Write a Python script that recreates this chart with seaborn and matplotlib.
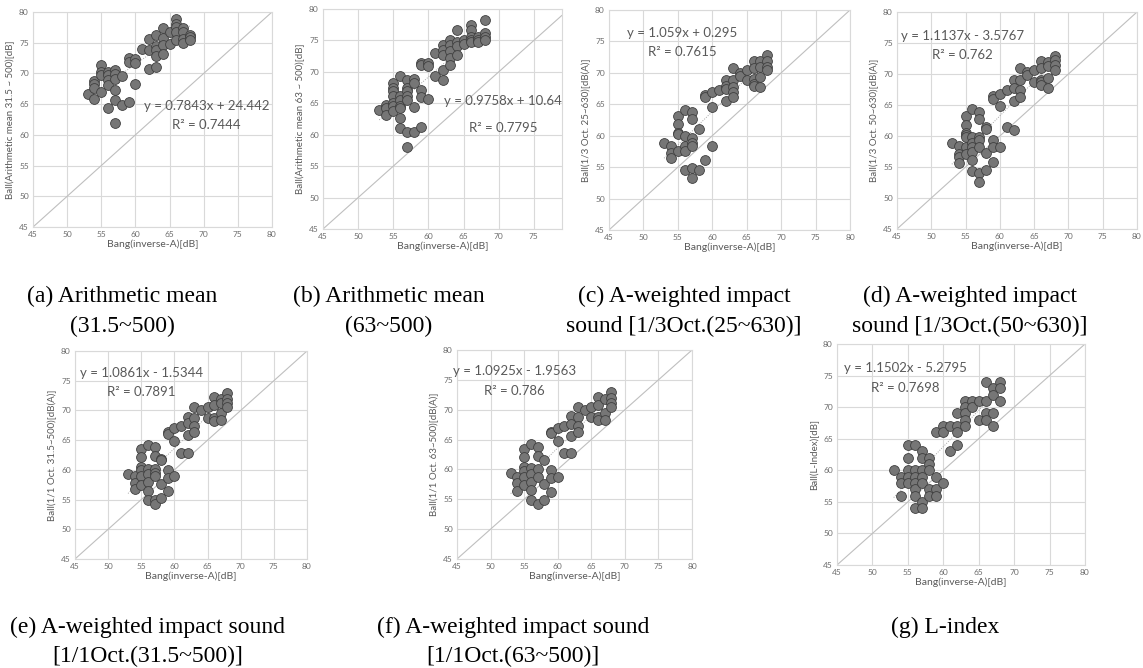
import matplotlib
matplotlib.use("Agg")
import matplotlib.pyplot as plt
import numpy as np
import pandas as pd
import seaborn as sns

# ---------------- data ----------------
x_a = [53, 54, 54, 54, 54, 55, 55, 55, 55, 56, 56, 56, 56, 56, 57, 57, 57, 57, 57, 57,
       58, 58, 59, 59, 59, 60, 60, 60, 61, 62, 62, 62, 63, 63, 63, 63, 63, 64, 64, 64, 64,
       65, 65, 66, 66, 66, 66, 66, 67, 67, 67, 67, 68, 68, 68]
y_a = [66.6, 68.7, 68.2, 67.6, 65.8, 71.3, 70.3, 69.8, 67.0, 70.3, 69.8, 69.0, 68.1, 64.4,
       70.6, 69.9, 69.1, 67.3, 65.7, 62.0, 69.6, 64.9, 72.5, 71.9, 65.4, 72.3, 71.7, 68.2,
       74.0, 75.6, 73.8, 70.7, 76.2, 74.4, 73.8, 72.9, 71.0, 77.4, 75.8, 74.7, 73.2,
       76.8, 74.8, 78.9, 78.1, 77.6, 76.7, 75.4, 77.4, 76.8, 75.6, 75.0, 76.3, 75.9, 75.4]

x_b = [53, 54, 54, 54, 55, 55, 55, 55, 55, 55, 55, 56, 56, 56, 56, 56, 56, 56,
       57, 57, 57, 57, 57, 57, 57, 58, 58, 58, 58, 59, 59, 59, 59, 59, 60, 60, 60,
       61, 61, 62, 62, 62, 62, 62, 63, 63, 63, 63, 63, 64, 64, 64, 64, 65, 65,
       66, 66, 66, 66, 66, 67, 67, 67, 68, 68, 68, 68]
y_b = [64.0, 64.8, 64.2, 63.2, 68.2, 67.4, 66.9, 66.1, 65.0, 64.5, 63.7,
       69.3, 66.1, 65.6, 64.6, 64.2, 62.7, 61.0,
       68.7, 67.4, 66.9, 66.1, 65.6, 60.4, 58.0, 68.9, 68.2, 64.4, 60.4,
       71.4, 71.1, 67.1, 66.0, 61.3, 71.4, 70.9, 65.7, 73.0, 69.4,
       74.3, 73.5, 72.7, 70.3, 68.7, 75.1, 74.3, 73.3, 72.2, 71.1,
       76.7, 74.8, 74.1, 72.7, 75.1, 74.4, 77.5, 76.7, 75.6, 75.1, 74.7,
       75.6, 75.1, 74.8, 78.3, 76.2, 75.6, 75.1]

x_c = [53, 54, 54, 54, 55, 55, 55, 55, 55, 56, 56, 56, 56, 56, 57, 57, 57, 57, 57, 57, 57,
       58, 58, 59, 59, 59, 60, 60, 60, 61, 62, 62, 62, 62, 63, 63, 63, 63, 63, 64, 64,
       65, 65, 66, 66, 66, 66, 66, 67, 67, 67, 67, 68, 68, 68, 68]
y_c = [58.9, 58.4, 57.2, 56.4, 63.1, 61.8, 60.5, 60.3, 57.6, 64.1, 60.0, 58.4, 57.6, 54.6,
       63.8, 62.7, 59.7, 58.9, 58.3, 54.8, 53.3, 61.0, 54.6, 66.5, 66.1, 56.2, 66.9, 64.6, 58.3,
       67.3, 68.9, 67.9, 67.4, 65.5, 70.7, 68.9, 67.7, 66.9, 66.2, 70.0, 69.5, 70.5, 68.9,
       71.9, 70.7, 69.0, 68.3, 67.9, 71.9, 71.0, 69.3, 67.7, 72.8, 71.9, 71.0, 70.5]

x_d = [53, 54, 54, 54, 54, 55, 55, 55, 55, 55, 55, 55, 56, 56, 56, 56, 56, 56, 56,
       57, 57, 57, 57, 57, 57, 57, 58, 58, 58, 58, 59, 59, 59, 59, 59, 60, 60, 60,
       61, 61, 62, 62, 62, 62, 63, 63, 63, 63, 64, 64, 65, 65, 66, 66, 66, 66, 66,
       67, 67, 67, 67, 68, 68, 68, 68]
y_d = [58.8, 58.4, 57.1, 56.6, 55.7, 63.2, 61.7, 60.5, 60.1, 59.8, 58.3, 57.1,
       64.3, 59.8, 58.9, 58.3, 57.5, 56.1, 54.4, 63.9, 62.7, 59.8, 59.4, 58.3, 54.0, 52.6,
       61.5, 61.2, 57.2, 54.5, 66.4, 66.0, 59.4, 58.3, 55.8, 66.8, 64.8, 58.3, 67.4, 61.4,
       69.0, 67.8, 65.7, 60.9, 70.9, 69.0, 67.5, 66.3, 70.3, 69.8, 70.6, 68.7,
       72.1, 70.9, 69.1, 68.7, 68.2, 71.9, 71.3, 69.4, 67.7, 72.9, 72.2, 71.4, 70.6]

x_e = [53, 54, 54, 54, 55, 55, 55, 55, 55, 55, 56, 56, 56, 56, 56, 56, 57, 57, 57, 57, 57, 57, 57,
       58, 58, 58, 58, 59, 59, 59, 59, 59, 60, 60, 60, 61, 61, 62, 62, 62, 62, 63, 63, 63, 63,
       64, 65, 65, 66, 66, 66, 66, 67, 67, 67, 67, 68, 68, 68, 68]
y_e = [59.3, 58.9, 57.8, 56.7, 63.5, 62.2, 60.4, 60.0, 58.9, 57.5, 64.2, 60.2, 59.3, 58.0, 56.5, 55.0,
       63.8, 62.3, 60.1, 59.5, 58.9, 55.0, 54.3, 61.8, 61.6, 57.6, 55.2, 66.4, 66.1, 60.0, 58.6, 56.4,
       67.1, 64.9, 58.9, 67.4, 62.8, 68.9, 67.9, 65.9, 62.8, 70.5, 68.8, 67.4, 66.4,
       70.0, 70.5, 68.8, 72.3, 70.9, 68.8, 68.3, 72.0, 71.2, 69.5, 68.4, 73.0, 72.0, 71.3, 70.6]

x_f = [53, 54, 54, 54, 55, 55, 55, 55, 55, 55, 56, 56, 56, 56, 56, 56, 57, 57, 57, 57, 57,
       58, 58, 58, 59, 59, 59, 59, 59, 60, 60, 60, 61, 61, 62, 62, 62, 62, 63, 63, 63, 63,
       64, 65, 65, 66, 66, 66, 66, 67, 67, 67, 68, 68, 68, 68]
y_f = [59.4, 58.8, 57.7, 56.4, 63.4, 62.1, 60.4, 59.7, 58.8, 57.4, 64.3, 60.2, 59.3, 57.9, 56.5, 54.8,
       63.7, 62.3, 60.0, 58.8, 54.2, 61.6, 57.6, 54.9, 66.3, 66.1, 59.9, 58.5, 56.2,
       66.9, 64.8, 58.8, 67.3, 62.7, 68.9, 67.6, 65.6, 62.7, 70.4, 68.7, 67.3, 66.3,
       70.0, 70.4, 68.7, 72.2, 70.8, 68.7, 68.2, 71.8, 69.4, 68.2, 72.9, 71.9, 71.2, 70.4]

x_g = [53, 54, 54, 54, 55, 55, 55, 55, 55, 56, 56, 56, 56, 56, 56, 56, 57, 57, 57, 57, 57, 57, 57,
       58, 58, 58, 58, 58, 59, 59, 59, 59, 60, 60, 60, 61, 61, 62, 62, 62, 62, 63, 63, 63, 63, 63,
       64, 64, 65, 65, 66, 66, 66, 66, 67, 67, 67, 67, 68, 68, 68]
y_g = [60, 59, 58, 56, 64, 62, 60, 59, 58, 64, 60, 59, 58, 57, 56, 54, 63, 62, 60, 59, 58, 55, 54,
       62, 61, 60, 57, 56, 66, 59, 57, 56, 67, 66, 58, 67, 63, 69, 67, 66, 64, 71, 70, 69, 68, 67,
       71, 70, 71, 68, 74, 71, 69, 68, 73, 72, 69, 67, 74, 73, 71]

panel_x = [x_a, x_b, x_c, x_d, x_e, x_f, x_g]
panel_y = [y_a, y_b, y_c, y_d, y_e, y_f, y_g]

slopes = [0.7843, 0.9758, 1.059, 1.1137, 1.0861, 1.0925, 1.1502]
intercepts = [24.442, 10.64, 0.295, -3.5767, -1.5344, -1.9563, -5.2795]
eq_labels = ["y = 0.7843x + 24.442", "y = 0.9758x + 10.64", "y = 1.059x + 0.295",
             "y = 1.1137x - 3.5767", "y = 1.0861x - 1.5344", "y = 1.0925x - 1.9563",
             "y = 1.1502x - 5.2795"]
r2_labels = ["R² = 0.7444", "R² = 0.7795", "R² = 0.7615", "R² = 0.762",
             "R² = 0.7891", "R² = 0.786", "R² = 0.7698"]
y_labels = ["Ball(Arithmetic mean 31.5 ~ 500)[dB]", "Ball(Arithmetic mean 63 ~ 500)[dB]",
            "Ball(1/3 Oct. 25~630)[dB(A)]", "Ball(1/3 Oct. 50~630)[dB(A)]",
            "Ball(1/1 Oct. 31.5~500)[dB(A)]", "Ball(1/1 Oct. 63~500)[dB(A)]",
            "Ball(L-Index)[dB]"]
x_label = "Bang(inverse-A)[dB]"
captions = [("(a) Arithmetic mean", "(31.5~500)"),
            ("(b) Arithmetic mean", "(63~500)"),
            ("(c) A-weighted impact", "sound [1/3Oct.(25~630)]"),
            ("(d) A-weighted impact", "sound [1/3Oct.(50~630)]"),
            ("(e) A-weighted impact sound", "[1/1Oct.(31.5~500)]"),
            ("(f) A-weighted impact sound", "[1/1Oct.(63~500)]"),
            ("(g) L-index", "")]
axis_ticks = [45, 50, 55, 60, 65, 70, 75, 80]

# ---------------- layout (pixels) ----------------
W, H = 1143, 668
boxes = [(33, 12, 272, 227), (323, 9, 562, 229), (609, 10, 850, 230), (897, 12, 1137, 229),
         (75, 351, 307, 559), (457, 350, 692, 559), (837, 344, 1085, 565)]
x_max = [80, 79, 80, 80, 80, 80, 80]
eq_pos = [(70.4, 64.7, 61.6), (70.6, 65.3, 61.0), (55.6, 76.4, 73.3), (54.5, 76.2, 73.0),
          (55.0, 76.3, 73.1), (53.6, 76.4, 73.2), (54.6, 76.2, 73.1)]
cap_pos = [(122, 296, 326), (389, 296, 326), (684, 296, 326), (970, 296, 326),
           (148, 627, 656), (513, 627, 656), (945, 627, 656)]

sns.set_theme(style="white")
plt.rcParams["font.family"] = ["Lato", "DejaVu Sans"]

fig = plt.figure(figsize=(W / 100, H / 100), dpi=100)
fig.patch.set_facecolor("white")

grid_c = "#d9d9d9"
text_c = "#595959"

for i in range(7):
    l, t, r, b = boxes[i]
    ax = fig.add_axes([l / W, 1 - b / H, (r - l) / W, (b - t) / H])
    ax.set_facecolor("white")
    df = pd.DataFrame({"x": panel_x[i], "y": panel_y[i]})
    # y = x reference line
    ax.axline((45, 45), slope=1, color="#bfbfbf", lw=0.8, zorder=2)
    # linear trend line
    tx = np.array([min(panel_x[i]), max(panel_x[i])], dtype=float)
    sns.lineplot(x=tx, y=slopes[i] * tx + intercepts[i], ax=ax, color="#a6a6a6",
                 lw=0.7, linestyle=(0, (1, 1.5)), zorder=2.5)
    sns.scatterplot(data=df, x="x", y="y", ax=ax, s=50, color="#767676",
                    edgecolor="#3f3f3f", linewidth=0.6, zorder=3, legend=False)
    ax.set_xlim(45, x_max[i])
    ax.set_ylim(45, 80)
    ax.set_xticks([v for v in axis_ticks if v <= x_max[i]])
    ax.set_yticks(axis_ticks)
    ax.grid(True, color=grid_c, lw=0.8, zorder=0)
    ax.set_axisbelow(True)
    for s in ax.spines.values():
        s.set_color(grid_c)
        s.set_linewidth(0.8)
    ax.tick_params(length=0, labelsize=6, labelcolor="#6d6d6d", pad=3)
    ax.set_xlabel(x_label, fontsize=7.5, color=text_c, labelpad=1)
    ax.set_ylabel(y_labels[i], fontsize=7, color=text_c, labelpad=3)
    ex, ey, ry = eq_pos[i]
    ax.text(ex, ey, eq_labels[i], ha="center", va="center", fontsize=9.5, color=text_c, zorder=4)
    ax.text(ex, ry, r2_labels[i], ha="center", va="center", fontsize=9.5, color=text_c, zorder=4)

for (l1, l2), (cx, y1, y2) in zip(captions, cap_pos):
    fig.text(cx / W, 1 - y1 / H, l1, ha="center", va="center", fontsize=17,
             family="Liberation Serif", color="black")
    if l2:
        fig.text(cx / W, 1 - y2 / H, l2, ha="center", va="center", fontsize=17,
                 family="Liberation Serif", color="black")

fig.savefig("out.png", dpi=100, facecolor="white")
